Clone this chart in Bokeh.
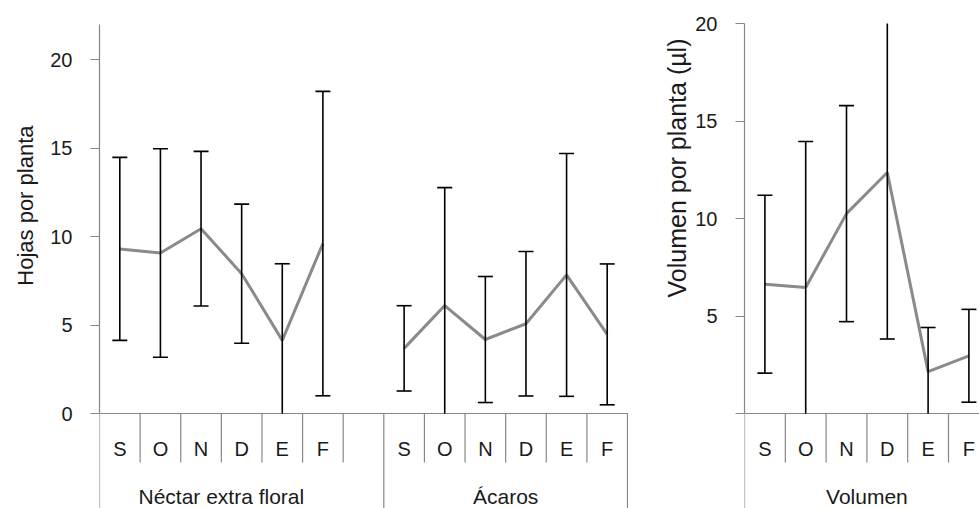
import numpy as np
from bokeh.plotting import figure
from bokeh.layouts import row
from bokeh.models import Range1d, FixedTicker, Title
from bokeh.core.properties import value
from bokeh.embed import file_html
from bokeh.resources import INLINE

# ---------------- data ----------------
months = ["S", "O", "N", "D", "E", "F"]

nectar_mean = [9.30, 9.07, 10.44, 7.90, 4.13, 9.60]
nectar_err = [5.17, 5.89, 4.37, 3.93, 4.33, 8.60]

acaros_mean = [3.68, 6.10, 4.18, 5.07, 7.83, 4.47]
acaros_err = [2.41, 6.66, 3.56, 4.08, 6.86, 3.98]

volumen_mean = [6.63, 6.46, 10.25, 12.36, 2.15, 2.96]
volumen_err = [4.56, 7.49, 5.54, 8.54, 2.26, 2.38]

left_groups = ["Néctar extra floral", "Ácaros"]
right_groups = ["Volumen"]
left_ylabel = "Hojas por planta"
right_ylabel = "Volumen por planta (µl)"
left_ticks = [0, 5, 10, 15, 20]
right_ticks = [0, 5, 10, 15, 20]
left_ymax = 22
right_ymax = 20

# ---------------- style ----------------
FONT = "Liberation Sans"
TXT = "#1a1a1a"
AX = "#878787"
LINE = "#8a8a8a"
FRAME_H = 508
ZERO_PX = 413          # zero line, px from frame top
SHORT_PX = 49          # month dividers length below axis
MONTH_PX = 35
GROUP_PX = 83


def make_panel(width, border_left, x_end, ppu, ymax, ticks, ylabel,
               label_offset, label_size, label_standoff, series, hide_zero=False):
    below = (FRAME_H - ZERO_PX) / ppu
    p = figure(width=width, height=FRAME_H, output_backend="svg",
               toolbar_location=None, x_axis_location=None,
               x_range=Range1d(0, x_end),
               y_range=Range1d(-below, ZERO_PX / ppu),
               min_border_left=border_left, min_border_right=0,
               min_border_top=0, min_border_bottom=0)
    p.outline_line_color = None
    p.grid.visible = False
    p.background_fill_color = "white"
    p.border_fill_color = "white"

    ax = p.yaxis[0]
    ax.ticker = FixedTicker(ticks=ticks)
    ax.bounds = (0, ymax)
    ax.axis_line_color = AX
    ax.axis_line_width = 1.2
    ax.major_tick_line_color = AX
    ax.major_tick_line_width = 1.2
    ax.major_tick_out = 9
    ax.major_tick_in = 0
    ax.minor_tick_line_color = None
    ax.major_label_standoff = 18
    ax.major_label_text_font = FONT
    ax.major_label_text_font_size = "20px"
    ax.major_label_text_color = TXT
    if hide_zero:
        ax.major_label_overrides = {0: ""}

    # axis title as a side title so that it can sit where the original has it
    t = Title(text=ylabel, align="right", offset=label_offset,
              standoff=label_standoff, text_font=FONT, text_font_size=label_size,
              text_font_style="normal", text_color=TXT)
    p.add_layout(t, "left")

    ybot = -below
    yshort = -SHORT_PX / ppu

    # horizontal category axis line
    p.segment(x0=[0], y0=[0], x1=[x_end], y1=[0], line_color=AX, line_width=1.2)

    # dividers
    long_x, short_x = [], []
    pos = 0
    for gname, mean, err, gap in series:
        long_x.append(pos)
        for k in range(1, len(months) + gap):
            short_x.append(pos + k)
        pos += len(months) + gap
    long_x.append(pos)
    p.segment(x0=long_x, y0=[0] * len(long_x), x1=long_x, y1=[ybot] * len(long_x),
              line_color=AX, line_width=1.2)
    p.segment(x0=short_x, y0=[0] * len(short_x), x1=short_x, y1=[yshort] * len(short_x),
              line_color=AX, line_width=1.2)

    pos = 0
    for gname, mean, err, gap in series:
        xs = np.arange(len(months)) + pos + 0.5
        mean = np.array(mean)
        err = np.array(err)
        hi = mean + err
        lo = mean - err
        p.line(xs, mean, line_color=LINE, line_width=3)
        p.segment(x0=xs, y0=np.clip(lo, 0, ymax), x1=xs, y1=np.clip(hi, 0, ymax),
                  line_color="black", line_width=1.6)
        mh = hi <= ymax
        ml = lo >= 0
        p.scatter(xs[mh], hi[mh], marker="dash", size=15, line_color="black", line_width=1.6)
        p.scatter(xs[ml], lo[ml], marker="dash", size=15, line_color="black", line_width=1.6)
        p.text(x=list(xs), y=[-MONTH_PX / ppu] * len(xs), text=months,
               text_align="center", text_baseline="middle",
               text_font=value(FONT), text_font_size="20px", text_color=TXT)
        p.text(x=[float(xs.mean())], y=[-GROUP_PX / ppu], text=[gname],
               text_align="center", text_baseline="middle",
               text_font=value(FONT), text_font_size="21px", text_color=TXT)
        pos += len(months) + gap
    return p


left_series = [
    (left_groups[0], nectar_mean, nectar_err, 1),
    (left_groups[1], acaros_mean, acaros_err, 0),
]
right_series = [
    (right_groups[0], volumen_mean, volumen_err, 0),
]

p1 = make_panel(width=628, border_left=99, x_end=13 + 1 / 40.7,
                ppu=17.7, ymax=left_ymax, ticks=left_ticks, ylabel=left_ylabel,
                label_offset=125, label_size="22px", label_standoff=20,
                series=left_series)
p2 = make_panel(width=351, border_left=116, x_end=235 / 40.8,
                ppu=19.5, ymax=right_ymax, ticks=right_ticks, ylabel=right_ylabel,
                label_offset=38, label_size="25px", label_standoff=4,
                series=right_series, hide_zero=True)

layout = row(p1, p2, spacing=0)
open("out.html", "w").write(file_html(layout, INLINE))
